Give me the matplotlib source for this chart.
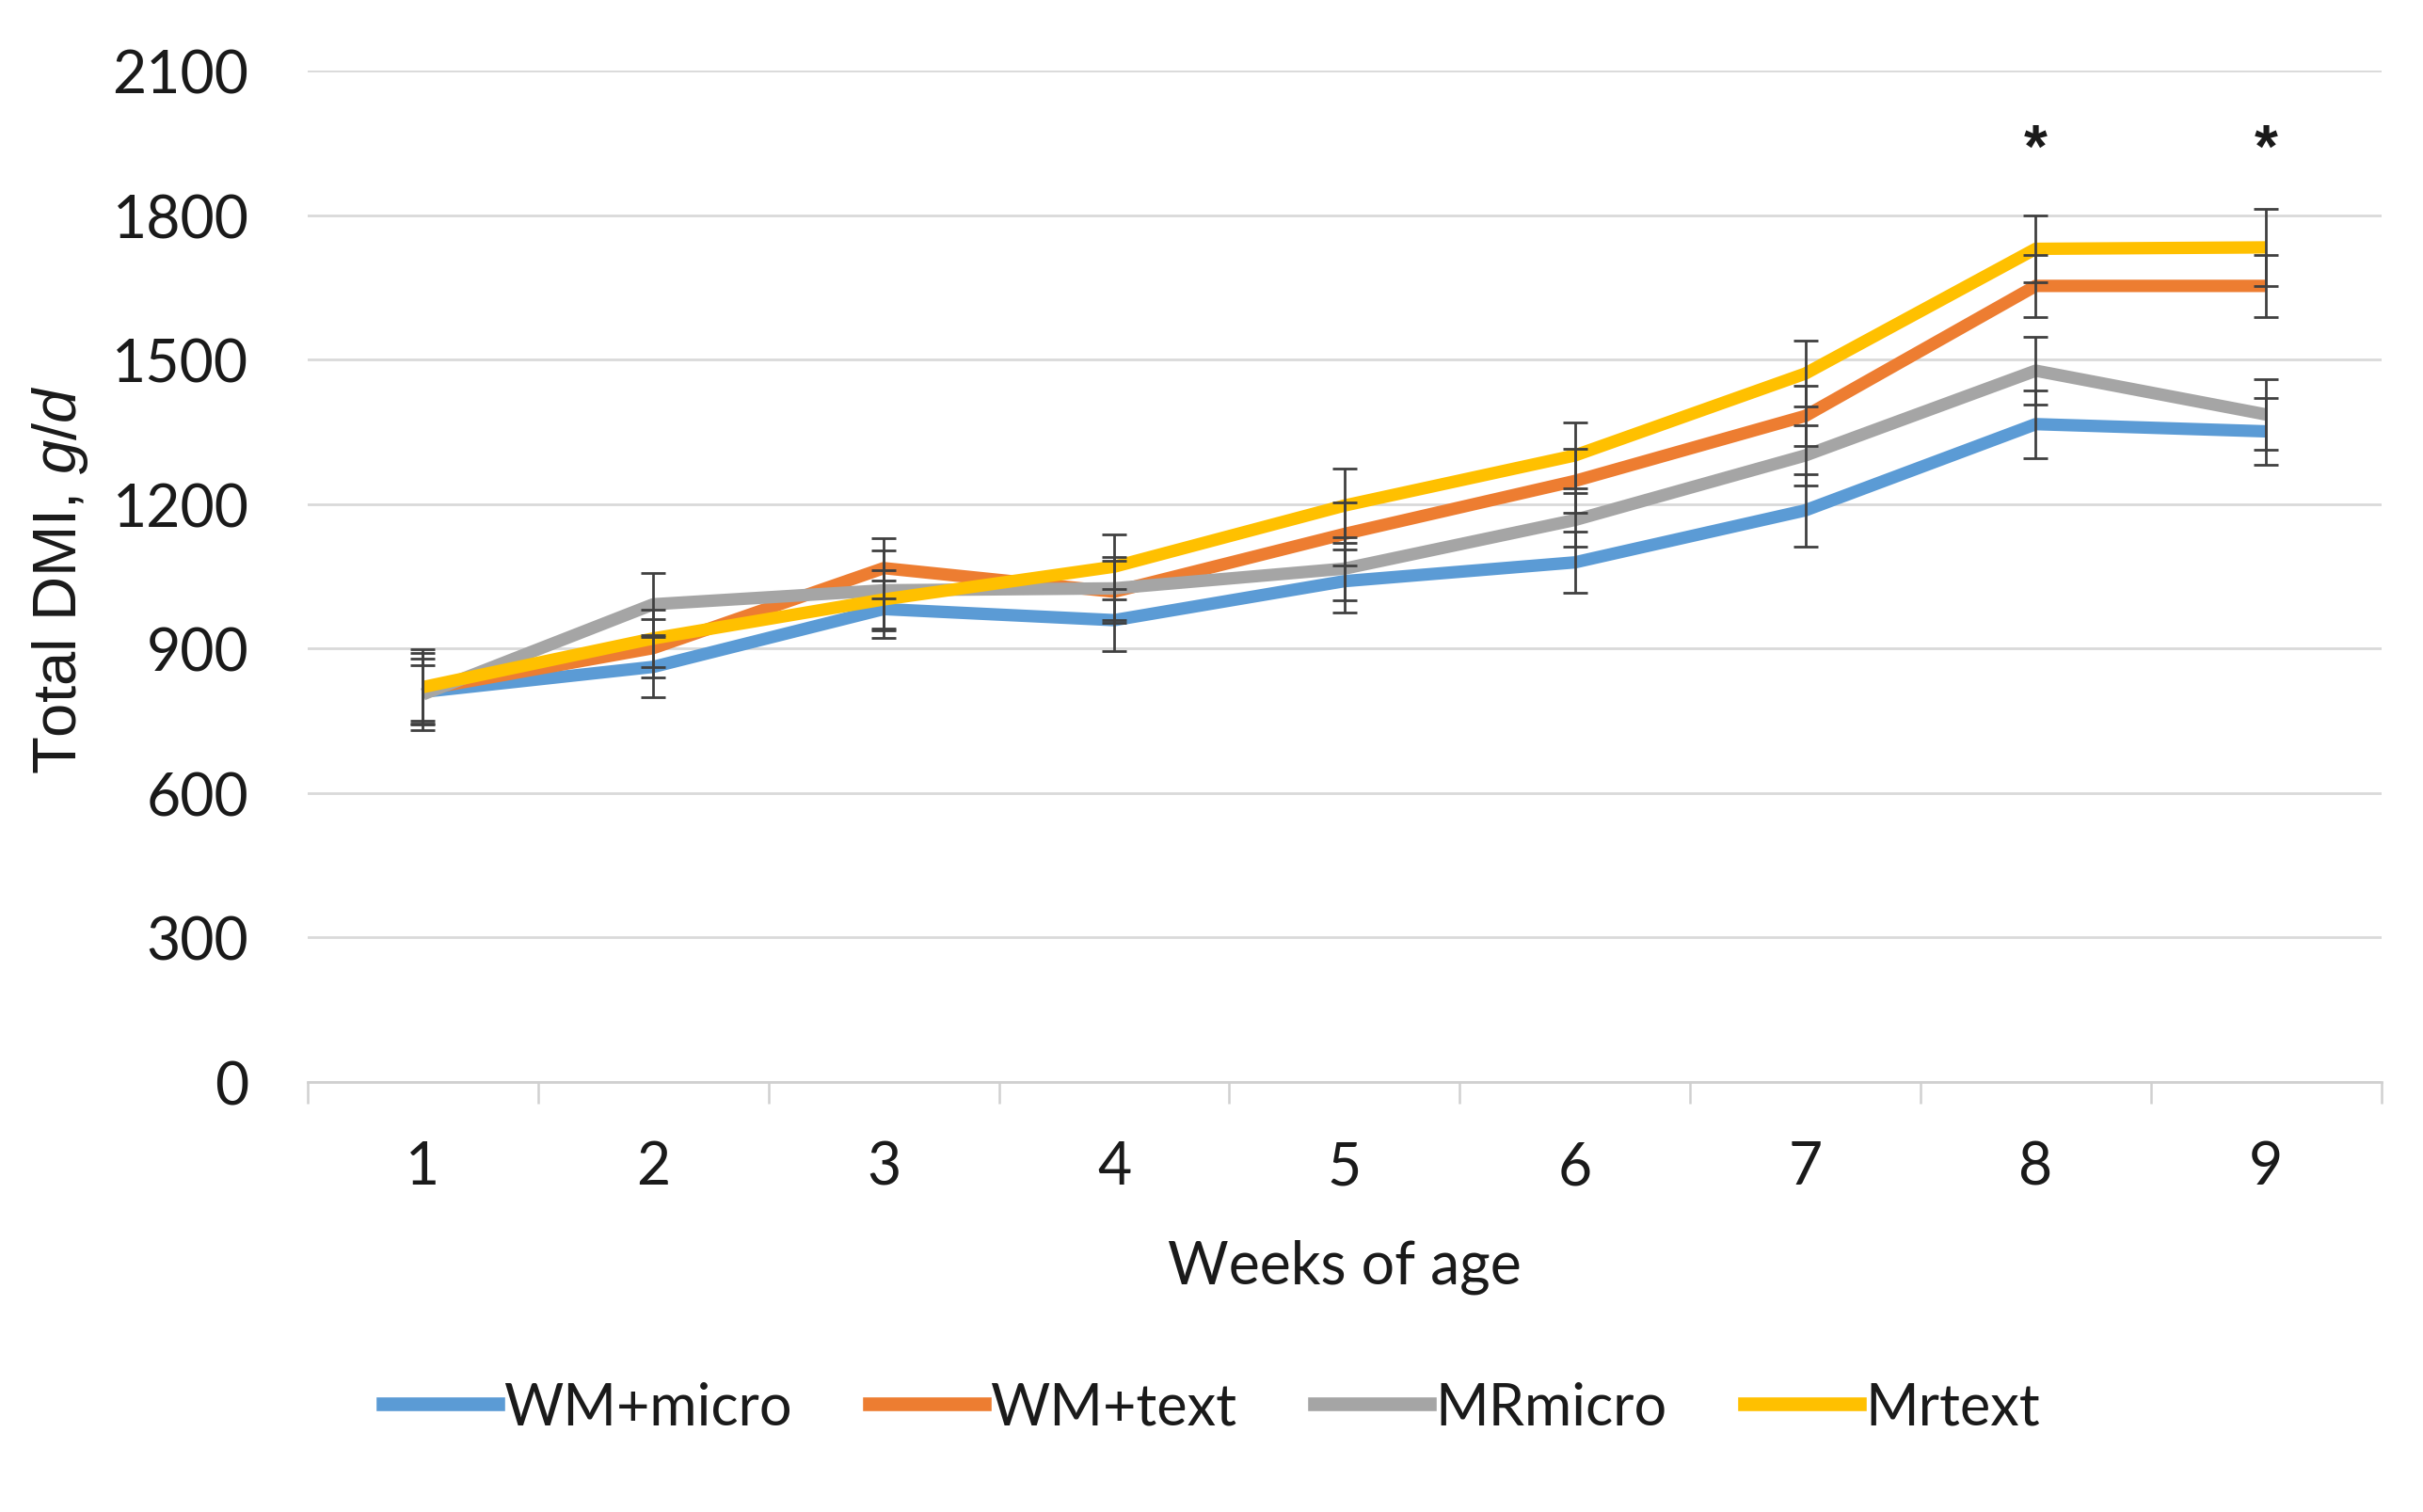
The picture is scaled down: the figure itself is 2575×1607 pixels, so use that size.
import numpy as np
import matplotlib
matplotlib.use("Agg")
import matplotlib.pyplot as plt
from matplotlib.lines import Line2D

plt.rcParams['font.family'] = ['Lato', 'DejaVu Sans']
plt.rcParams['mathtext.fontset'] = 'custom'
plt.rcParams['mathtext.rm'] = 'Liberation Sans'
plt.rcParams['mathtext.it'] = 'Liberation Sans:italic'

# ---- data ----
weeks = [1, 2, 3, 4, 5, 6, 7, 8, 9]
series_names = ["WM+micro", "WM+text", "MRmicro", "Mrtext"]
wm_micro = [810, 862, 982, 959, 1040, 1079, 1187, 1366, 1351]
wm_text = [815, 901, 1067, 1018, 1138, 1248, 1383, 1653, 1653]
mr_micro = [805, 992, 1021, 1025, 1066, 1167, 1301, 1477, 1386]
mr_text = [820, 921, 1002, 1070, 1197, 1301, 1471, 1730, 1733]

wm_micro_err = [80, 63, 60, 65, 65, 63, 76, 70, 70]
wm_text_err = [64, 60, 63, 65, 65, 66, 62, 65, 65]
mr_micro_err = [60, 64, 83, 65, 65, 55, 62, 70, 73]
mr_text_err = [78, 60, 60, 67, 77, 69, 68, 70, 80]

signif_weeks = [8, 9]
signif_mark = "*"

y_ticks = [0, 300, 600, 900, 1200, 1500, 1800, 2100]
x_label = "Weeks of age"
y_label = "Total DMI, $\\mathit{g/d}$"

colors = ["#5B9BD5", "#ED7D31", "#A5A5A5", "#FFC000"]

# ---- figure ----
fig = plt.figure(figsize=(25.75, 16.08), dpi=100)
ax = fig.add_axes([0.127, 0.2842, 0.8558, 0.6685])

values = [wm_micro, wm_text, mr_micro, mr_text]
errors = [wm_micro_err, wm_text_err, mr_micro_err, mr_text_err]

for vals, c in zip(values, colors):
    ax.plot(weeks, vals, color=c, lw=9.5, solid_joinstyle='round',
            solid_capstyle='butt', zorder=3)
for vals, err in zip(values, errors):
    ax.errorbar(weeks, vals, yerr=err, fmt='none', ecolor='#404040',
                elinewidth=2.0, capsize=9.7, capthick=2.0, zorder=4)

for w in signif_weeks:
    ax.annotate(signif_mark, xy=(w, 1955), xytext=(0, -20),
                textcoords='offset points', ha='center', va='baseline',
                fontsize=46, fontweight='bold', family='Liberation Sans',
                color='#1a1a1a')

ax.set_xlim(0.5, 9.5)
ax.set_ylim(0, 2100)
ax.set_yticks(y_ticks)
ax.set_xticks(weeks)
ax.set_xticks(np.arange(0.5, 9.6, 1.0), minor=True)

ax.yaxis.grid(True, color='#d9d9d9', lw=2.0)
ax.set_axisbelow(True)
for s in ['left', 'right', 'top']:
    ax.spines[s].set_visible(False)
ax.spines['bottom'].set_color('#d0d0d0')
ax.spines['bottom'].set_linewidth(2.0)

ax.tick_params(axis='y', length=0, pad=45, labelsize=45, labelcolor='#1a1a1a')
ax.tick_params(axis='x', which='major', length=0, pad=44, labelsize=45,
               labelcolor='#1a1a1a')
ax.tick_params(axis='x', which='minor', length=16.5, width=1.8,
               color='#d0d0d0', direction='out')

ax.set_xlabel(x_label, fontsize=45, labelpad=34, color='#1a1a1a')

fig.text(64 / 2575, 1 - 616 / 1608, y_label, rotation=90, ha='center',
         va='center', fontsize=47, family='Liberation Sans', color='#1a1a1a')

handles = [Line2D([], [], color=c, lw=10.5) for c in colors]
fig.legend(handles, series_names, loc='center', bbox_to_anchor=(0.5, 0.069),
           ncol=4, frameon=False, fontsize=44, handlelength=2.0,
           handletextpad=0.1, columnspacing=1.35, labelcolor='#1a1a1a')

fig.savefig("out.png", dpi=100)
